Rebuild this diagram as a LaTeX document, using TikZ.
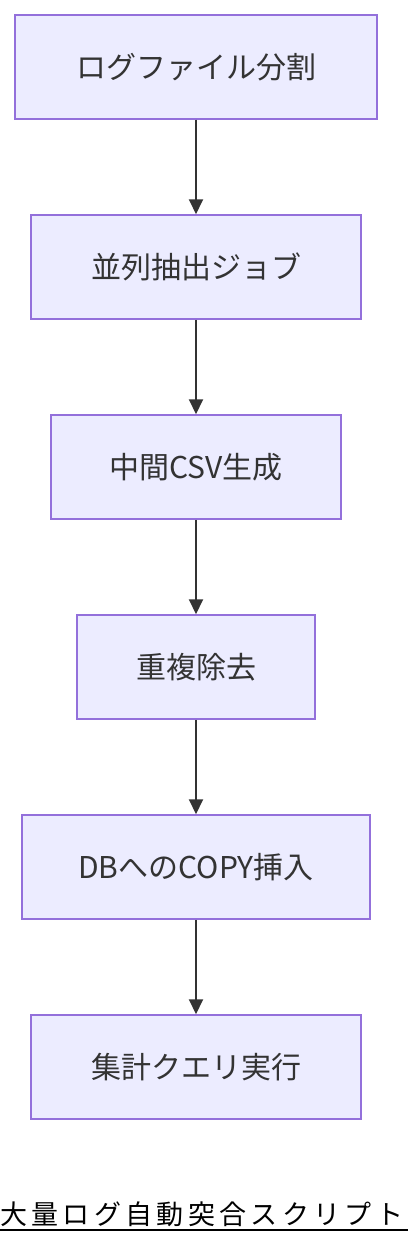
\documentclass[tikz,border=0pt]{standalone}
\usepackage{fontspec}
\setmainfont{Noto Sans CJK JP}
\usetikzlibrary{positioning, arrows.meta}

\definecolor{boxfill}{HTML}{ECECFF}
\definecolor{boxline}{HTML}{9370DB}
\definecolor{ink}{HTML}{333333}

\tikzset{
  stepbox/.style={draw=boxline, fill=boxfill, line width=1.5pt, minimum height=104pt,
    inner sep=0pt, text=ink, font=\fontsize{30}{36}\selectfont},
  flow/.style={draw=ink, line width=2pt, -{Triangle[length=15pt,width=14pt]}}
}

\begin{document}
\begin{tikzpicture}[x=1pt,y=-1pt]
\useasboundingbox (0,0) rectangle (408,1244);

\node[stepbox, minimum width=362pt] (split) at (196,67) {ログファイル分割};
\node[stepbox, minimum width=330pt] (extract) at (196,267) {並列抽出ジョブ};
\node[stepbox, minimum width=290pt] (csv) at (196,467) {中間CSV生成};
\node[stepbox, minimum width=238pt] (dedup) at (196,667) {重複除去};
\node[stepbox, minimum width=348pt] (copy) at (196,867) {DBへのCOPY挿入};
\node[stepbox, minimum width=330pt] (query) at (196,1067) {集計クエリ実行};

\draw[flow] (split) -- (extract);
\draw[flow] (extract) -- (csv);
\draw[flow] (csv) -- (dedup);
\draw[flow] (dedup) -- (copy);
\draw[flow] (copy) -- (query);

% title
\node[anchor=base west, inner sep=0pt, font=\fontsize{27}{32}\selectfont\addfontfeatures{LetterSpace=16}] (title) at (0,1224) {大量ログ自動突合スクリプト};
\draw[line width=2pt] (title.base west) ++(0,6) -- (408,1230);
\end{tikzpicture}
\end{document}
